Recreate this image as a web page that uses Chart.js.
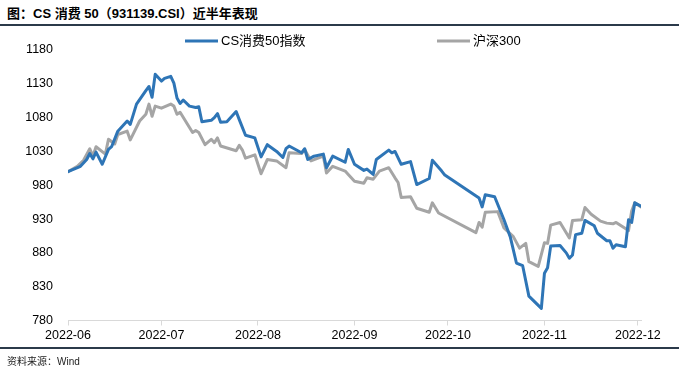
<!DOCTYPE html>
<html>
<head>
<meta charset="utf-8">
<script src="https://cdn.jsdelivr.net/npm/chart.js@4.4.1/dist/chart.umd.min.js"></script>
<style>
  html, body { margin: 0; padding: 0; background: #ffffff; }
  body { width: 679px; height: 375px; position: relative; overflow: hidden;
         font-family: "Liberation Sans", "Noto Sans CJK SC", sans-serif; }
  #title { position: absolute; left: 7px; top: 3px; font-size: 13px; font-weight: bold; color: #000; white-space: nowrap; }
  .rule { position: absolute; left: 0; width: 679px; height: 2px; background: #2b3a4a; }
  #src { position: absolute; left: 7px; top: 353px; font-size: 10px; color: #222; white-space: nowrap; }
  canvas { position: absolute; left: 0; top: 0; }
</style>
</head>
<body>
<div id="title">图：CS 消费 50（931139.CSI）近半年表现</div>
<div class="rule" style="top:24px"></div>
<canvas id="c" width="679" height="375"></canvas>
<div class="rule" style="top:347px"></div>
<div id="src">资料来源：Wind</div>
<script>
// ---- data (x = days since 2022-06-01) ----
const seriesNames = ["CS消费50指数", "沪深300"];
const monthDays = [0, 30, 61, 92, 122, 153, 183];
const monthLabels = ["2022-06", "2022-07", "2022-08", "2022-09", "2022-10", "2022-11", "2022-12"];
const yTicks = [780, 830, 880, 930, 980, 1030, 1080, 1130, 1180];

const csDays = [0, 4, 6, 7, 8, 9, 11, 13, 14, 16, 19, 20, 22, 25, 26, 27, 28, 30, 31, 33, 34, 35, 36, 37, 39, 41, 42, 43, 46, 47, 48, 49, 51, 54, 55, 57, 60, 62, 64, 67, 69, 70, 71, 75, 76, 77, 79, 82, 83, 85, 89, 90, 92, 95, 96, 98, 99, 103, 104, 105, 107, 110, 112, 116, 117, 120, 121, 132, 133, 134, 137, 140, 142, 144, 146, 148, 152, 153, 154, 155, 158, 160, 161, 162, 163, 165, 166, 169, 170, 173, 174, 175, 176, 179, 180, 181, 182, 184];
const csValues = [1000, 1008, 1018, 1027, 1019, 1029, 1011, 1033, 1037, 1060, 1075, 1070, 1100, 1120, 1126, 1110, 1144, 1134, 1138, 1141, 1131, 1109, 1101, 1106, 1097, 1095, 1096, 1074, 1076, 1080, 1086, 1073, 1074, 1089, 1077, 1054, 1050, 1022, 1040, 1030, 1021, 1034, 1038, 1028, 1034, 1018, 1023, 1026, 1006, 1023, 1014, 1033, 1011, 1002, 1004, 996, 1018, 1032, 1028, 1030, 1011, 1015, 981, 990, 1017, 1001, 995, 961, 948, 966, 963, 929, 904, 865, 861, 816, 798, 850, 858, 890, 891, 880, 872, 877, 907, 909, 928, 920, 909, 898, 898, 887, 892, 889, 929, 925, 954, 949];

const hsDays = [0, 3, 5, 7, 8, 9, 12, 13, 15, 16, 19, 20, 23, 25, 26, 27, 28, 30, 33, 34, 35, 36, 40, 41, 42, 44, 46, 47, 48, 49, 54, 55, 56, 57, 60, 62, 64, 67, 70, 71, 75, 76, 78, 82, 83, 85, 89, 90, 92, 95, 96, 98, 100, 103, 105, 106, 107, 110, 112, 116, 117, 119, 131, 132, 133, 134, 138, 140, 143, 145, 147, 148, 151, 153, 154, 155, 158, 161, 162, 165, 166, 168, 171, 173, 175, 176, 180, 181, 182, 184];
const hsValues = [1000, 1008, 1017, 1034, 1023, 1037, 1026, 1048, 1041, 1055, 1060, 1047, 1075, 1085, 1100, 1082, 1097, 1094, 1100, 1097, 1085, 1088, 1058, 1061, 1058, 1040, 1048, 1043, 1050, 1038, 1031, 1039, 1032, 1020, 1025, 997, 1018, 1016, 1006, 1028, 1027, 1033, 1016, 1023, 998, 1008, 1001, 996, 986, 983, 991, 989, 1001, 1006, 991, 984, 962, 963, 946, 940, 954, 939, 910, 925, 918, 940, 941, 917, 904, 887, 894, 867, 860, 895, 894, 921, 925, 902, 928, 929, 947, 937, 927, 924, 923, 925, 913, 942, 954, 948];

const toPoints = (xs, ys) => xs.map((x, i) => ({ x: x, y: ys[i] }));

const FONT = '"Liberation Sans", "Noto Sans CJK SC", sans-serif';

const legendPlugin = {
  id: 'customLegend',
  afterDraw(chart) {
    const ctx = chart.ctx;
    const xs = [185, 437];
    const y = 41;
    ctx.save();
    chart.data.datasets.forEach((ds, i) => {
      ctx.strokeStyle = ds.borderColor;
      ctx.lineWidth = 3;
      ctx.beginPath();
      ctx.moveTo(xs[i], y);
      ctx.lineTo(xs[i] + 33, y);
      ctx.stroke();
      ctx.fillStyle = '#000';
      ctx.font = '13px ' + FONT;
      ctx.textBaseline = 'middle';
      ctx.fillText(ds.label, xs[i] + 36, y);
    });
    ctx.restore();
  }
};

new Chart(document.getElementById('c'), {
  type: 'line',
  data: {
    datasets: [
      { label: seriesNames[0], data: toPoints(csDays, csValues), borderColor: '#2E75B6', borderWidth: 3, pointRadius: 0, tension: 0, borderJoinStyle: 'round', borderCapStyle: 'round', order: 1 },
      { label: seriesNames[1], data: toPoints(hsDays, hsValues), borderColor: '#A5A5A5', borderWidth: 3, pointRadius: 0, tension: 0, borderJoinStyle: 'round', borderCapStyle: 'round', order: 2 }
    ]
  },
  options: {
    responsive: false,
    animation: false,
    devicePixelRatio: 1,
    layout: { padding: { left: 0, right: 38, top: 50, bottom: 24 } },
    plugins: { legend: { display: false }, tooltip: { enabled: false }, title: { display: false } },
    scales: {
      x: {
        type: 'linear', min: 0, max: 184,
        afterBuildTicks: (s) => { s.ticks = monthDays.map(v => ({ value: v })); },
        afterFit: (s) => { s.height = 30.5; },
        ticks: {
          autoSkip: false, maxRotation: 0, padding: 3, color: '#000',
          font: { size: 12.5, family: FONT },
          callback: (v) => monthLabels[monthDays.indexOf(v)]
        },
        grid: { display: true, drawOnChartArea: false, drawTicks: true, tickLength: 5, color: '#d9d9d9', lineWidth: 1 },
        border: { display: true, color: '#d9d9d9', width: 1 }
      },
      y: {
        min: 780, max: 1180,
        afterBuildTicks: (s) => { s.ticks = yTicks.map(v => ({ value: v })); },
        afterFit: (s) => { s.width = 68; },
        ticks: { padding: 15, color: '#000', font: { size: 12.5, family: FONT }, callback: (v) => String(v) },
        grid: { display: false, drawTicks: false },
        border: { display: false }
      }
    }
  },
  plugins: [legendPlugin]
});
</script>
</body>
</html>
